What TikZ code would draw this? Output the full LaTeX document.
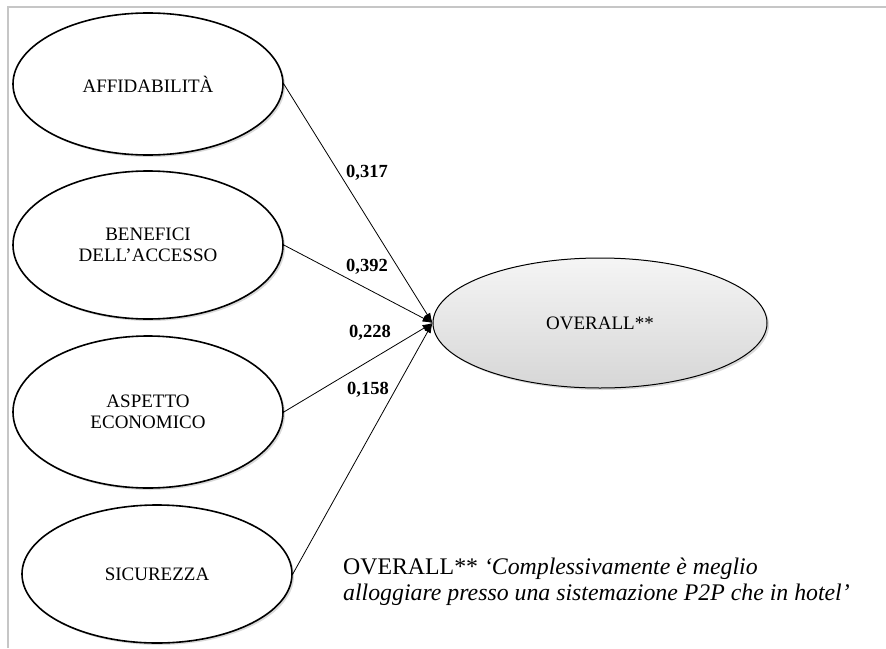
\documentclass[tikz,border=0pt]{standalone}
\usepackage{fontspec}
\setmainfont{Liberation Serif}
\usetikzlibrary{shapes.geometric, arrows.meta, shadows, positioning}
\tikzset{factor/.style={ellipse, draw=black, line width=1.6pt, fill=white, inner sep=0pt, minimum width=270pt, align=center, font=\fontsize{19}{21}\selectfont, drop shadow={shadow xshift=2pt, shadow yshift=-2pt, opacity=.3}},
  outcome/.style={ellipse, draw=black, line width=1pt, top color=gray!8, bottom color=gray!32, inner sep=0pt, minimum width=334pt, minimum height=130pt, font=\fontsize{19}{21}\selectfont, drop shadow={shadow xshift=2pt, shadow yshift=-2pt, opacity=.3}},
  coef/.style={inner sep=0pt, font=\fontsize{18.5}{20}\selectfont\bfseries},
  link/.style={line width=.8pt, -{Latex[length=10pt, width=7pt]}}}

\begin{document}
\begin{tikzpicture}[x=1pt, y=-1pt]
    \useasboundingbox (0,0) rectangle (886,648);
    % frame
    \draw[gray!45, line width=1.5pt] (8,648) -- (8,7) -- (886,7);
    % latent factors
    \node[factor, minimum height=142pt] (aff) at (148,84) {AFFIDABILIT\`A};
    \node[factor, minimum height=148pt] (ben) at (148,245) {BENEFICI\\DELL’ACCESSO};
    \node[factor, minimum height=152pt] (eco) at (148,412) {ASPETTO\\ECONOMICO};
    \node[factor, minimum height=138pt] (sic) at (157,574) {SICUREZZA};
    \node[outcome] (ovr) at (600,323) {OVERALL**};
    % paths
    \draw[link] (aff.east) -- (ovr.west);
    \draw[link] (ben.east) -- (ovr.west);
    \draw[link] (eco.east) -- (ovr.west);
    \draw[link] (sic.east) -- (ovr.west);
    \node[coef] (c1) at (367,173) {0,317};
    \node[coef] (c2) at (367,267) {0,392};
    \node[coef] (c3) at (370,333) {0,228};
    \node[coef] (c4) at (368,390) {0,158};
    % note (base = last line)
    \node[anchor=base west, align=left, inner sep=0pt, font=\fontsize{23.8}{26}\selectfont] (note) at (343,600)
        {OVERALL** \textit{‘Complessivamente è meglio}\\\textit{alloggiare presso una sistemazione P2P che in hotel’}};
\end{tikzpicture}
\end{document}
